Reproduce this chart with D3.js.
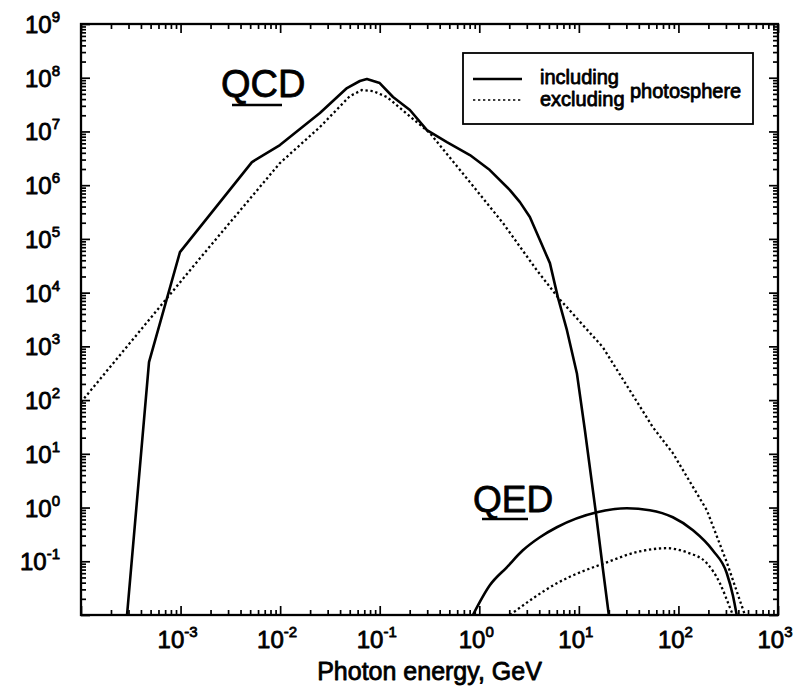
<!DOCTYPE html>
<html>
<head>
<meta charset="utf-8">
<script src="https://cdn.jsdelivr.net/npm/d3@7/dist/d3.min.js"></script>
<style>
  html, body { margin: 0; padding: 0; background: #fff; }
  svg { display: block; }
  text { font-family: "Liberation Sans", Arial, Helvetica, sans-serif; fill: #000; }
</style>
</head>
<body>
<svg id="chart" width="796" height="689"></svg>
<script>
// Photon spectra: QCD and QED, with and without the photosphere
const qcdInclE = [2.90e-4, 4.82e-4, 9.86e-4, 5.21e-3, 9.95e-3, 2.51e-2, 4.69e-2, 6.32e-2, 7.43e-2, 0.1, 0.136, 0.201, 0.298, 0.473, 0.805, 1.276, 2.03, 2.56, 3.22, 4.06, 5.12, 6.15, 7.59, 9.55, 11.5, 14.8, 17.4, 20.0];
const qcdInclV = [0.01, 508, 5.68e4, 2.69e6, 5.58e6, 2.20e7, 6.43e7, 8.69e7, 9.46e7, 7.96e7, 4.38e7, 2.51e7, 1.06e7, 6.35e6, 3.64e6, 1.91e6, 8.11e5, 4.84e5, 2.55e5, 9.5e4, 3.54e4, 8.24e3, 2.0e3, 317, 27.5, 0.817, 0.0741, 0.01];

const qcdExclE = [1e-4, 1.57e-3, 9.95e-3, 2.51e-2, 5.02e-2, 6.62e-2, 8.55e-2, 0.118, 0.319, 0.805, 1.73, 3.78, 6.15, 17.4, 55.3, 87.9, 193, 306, 465];
const qcdExclV = [91.4, 4.39e4, 2.58e6, 1.21e7, 4.56e7, 5.90e7, 5.65e7, 4.38e7, 9.33e6, 1.14e6, 1.97e5, 2.62e4, 8.24e3, 966, 31.3, 10.3, 0.891, 0.0957, 0.01];

const qedInclE = [0.863, 1.276, 1.89, 2.74, 4.06, 6.01, 15.2, 30.3, 51.6, 87.9, 140, 221, 306, 352, 385];
const qedInclV = [0.01, 0.0357, 0.0773, 0.160, 0.280, 0.430, 0.817, 0.970, 0.891, 0.659, 0.378, 0.160, 0.0598, 0.0233, 0.01];

const qedExclE = [2.03, 6.01, 19.1, 40.9, 76.6, 121, 193, 261, 328, 352];
const qedExclV = [0.01, 0.0389, 0.0957, 0.153, 0.175, 0.147, 0.0918, 0.0389, 0.0139, 0.01];

const xTickExps = [-3, -2, -1, 0, 1, 2, 3];
const yTickExps = [-1, 0, 1, 2, 3, 4, 5, 6, 7, 8, 9];
const xDomain = [1e-4, 1e3];
const yDomain = [1e-2, 1e9];

const xTitle = "Photon energy, GeV";
const legendRows = ["including", "excluding"];
const legendShared = "photosphere";

const svg = d3.select("#chart");
const L = 81, R = 778, T = 24, B = 615;

const x = d3.scaleLog().domain(xDomain).range([L, R]);
const y = d3.scaleLog().domain(yDomain).range([B, T]);

function decadeTicks(domain) {
  const lo = Math.round(Math.log10(domain[0])), hi = Math.round(Math.log10(domain[1]));
  const major = [], minor = [];
  for (let k = lo; k <= hi; k++) {
    major.push(Math.pow(10, k));
    if (k < hi) for (let m = 2; m <= 9; m++) minor.push(m * Math.pow(10, k));
  }
  return { major, minor };
}
const xt = decadeTicks(xDomain), yt = decadeTicks(yDomain);

const majorLen = 9, minorLen = 5;
function addAxis(axisFn, scale, vals, len, transform) {
  const g = svg.append("g").attr("transform", transform)
    .call(axisFn(scale).tickValues(vals).tickSize(-len).tickSizeOuter(0).tickFormat(() => ""));
  g.select(".domain").remove();
  g.selectAll(".tick line").attr("stroke", "#000").attr("stroke-width", 1.7);
  g.selectAll(".tick text").remove();
}
// ticks on all four sides, pointing inward
addAxis(d3.axisBottom, x, xt.major, majorLen, `translate(0,${B})`);
addAxis(d3.axisBottom, x, xt.minor, minorLen, `translate(0,${B})`);
addAxis(d3.axisTop, x, xt.major, majorLen, `translate(0,${T})`);
addAxis(d3.axisTop, x, xt.minor, minorLen, `translate(0,${T})`);
addAxis(d3.axisLeft, y, yt.major, majorLen, `translate(${L},0)`);
addAxis(d3.axisLeft, y, yt.minor, minorLen, `translate(${L},0)`);
addAxis(d3.axisRight, y, yt.major, majorLen, `translate(${R},0)`);
addAxis(d3.axisRight, y, yt.minor, minorLen, `translate(${R},0)`);

// frame
svg.append("rect").attr("x", L).attr("y", T).attr("width", R - L).attr("height", B - T)
  .attr("fill", "none").attr("stroke", "#000").attr("stroke-width", 2.3);

// tick labels with superscript exponents
const labStyle = t => t.attr("stroke", "#000").attr("stroke-width", 0.8).attr("stroke-linejoin", "round");
xTickExps.forEach(e => {
  const t = svg.append("text").attr("x", x(Math.pow(10, e)) - 3).attr("y", B + 33)
    .attr("text-anchor", "middle").attr("font-size", 24);
  t.append("tspan").text("10");
  t.append("tspan").attr("font-size", 15).attr("dy", -11).text(String(e));
  labStyle(t);
});
yTickExps.forEach(e => {
  const t = svg.append("text").attr("x", 60).attr("y", y(Math.pow(10, e)) + 9)
    .attr("text-anchor", "end").attr("font-size", 24);
  t.append("tspan").text("10");
  t.append("tspan").attr("font-size", 15).attr("dy", -11).text(String(e));
  labStyle(t);
});

// axis title
labStyle(svg.append("text").attr("x", (L + R) / 2).attr("y", 680)
  .attr("text-anchor", "middle").attr("font-size", 25).text(xTitle));

// curves
svg.append("clipPath").attr("id", "plotclip").append("rect")
  .attr("x", L).attr("y", T).attr("width", R - L).attr("height", B - T);
const plot = svg.append("g").attr("clip-path", "url(#plotclip)");
const lineLin = d3.line().x(d => x(d[0])).y(d => y(d[1])).curve(d3.curveLinear);
const lineSmooth = d3.line().x(d => x(d[0])).y(d => y(d[1])).curve(d3.curveMonotoneX);
const zip = (a, b) => a.map((v, i) => [v, b[i]]);

const solidStyle = p => p.attr("fill", "none").attr("stroke", "#000").attr("stroke-width", 2.6)
  .attr("stroke-linejoin", "round");
const dotStyle = p => p.attr("fill", "none").attr("stroke", "#000").attr("stroke-width", 2.3)
  .attr("stroke-dasharray", "2.3,2.7");

solidStyle(plot.append("path").attr("d", lineLin(zip(qcdInclE, qcdInclV))));
dotStyle(plot.append("path").attr("d", lineLin(zip(qcdExclE, qcdExclV))));
solidStyle(plot.append("path").attr("d", lineSmooth(zip(qedInclE, qedInclV))));
dotStyle(plot.append("path").attr("d", lineSmooth(zip(qedExclE, qedExclV))));

// curve family labels
labStyle(svg.append("text").attr("x", 221).attr("y", 97).attr("font-size", 38).text("QCD"));
svg.append("line").attr("x1", 232).attr("x2", 282).attr("y1", 105).attr("y2", 105)
  .attr("stroke", "#000").attr("stroke-width", 2.4);
labStyle(svg.append("text").attr("x", 473).attr("y", 512).attr("font-size", 37).text("QED"));
svg.append("line").attr("x1", 482).attr("x2", 528).attr("y1", 519).attr("y2", 519)
  .attr("stroke", "#000").attr("stroke-width", 2.4);

// legend
const lg = svg.append("g");
lg.append("rect").attr("x", 463).attr("y", 53).attr("width", 290).attr("height", 71)
  .attr("fill", "#fff").attr("stroke", "#000").attr("stroke-width", 1.8);
solidStyle(lg.append("line").attr("x1", 473).attr("x2", 522).attr("y1", 79).attr("y2", 79));
dotStyle(lg.append("line").attr("x1", 473).attr("x2", 522).attr("y1", 100).attr("y2", 100))
  .attr("stroke-width", 1.6);
legendRows.forEach((s, i) => {
  labStyle(lg.append("text").attr("x", 540).attr("y", 84 + i * 22).attr("font-size", 20).text(s));
});
labStyle(lg.append("text").attr("x", 630).attr("y", 98).attr("font-size", 20).text(legendShared));
</script>
</body>
</html>
